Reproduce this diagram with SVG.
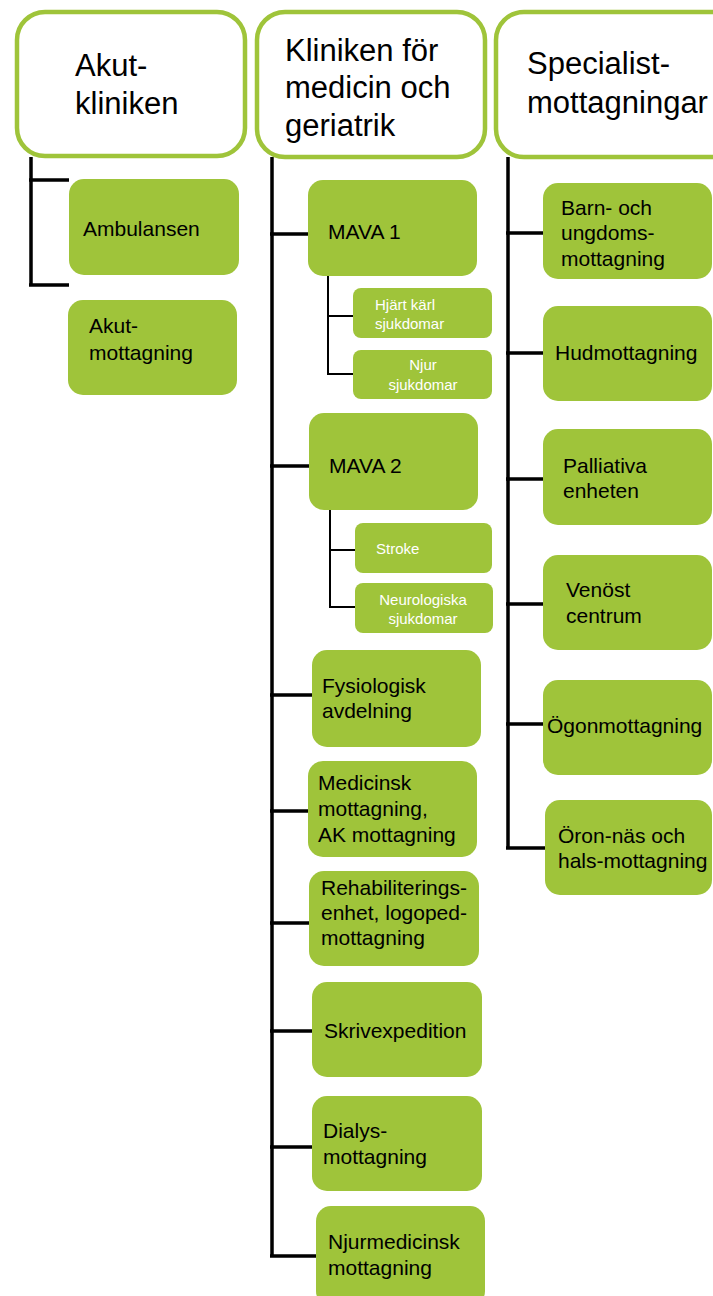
<svg xmlns="http://www.w3.org/2000/svg" width="713" height="1296" viewBox="0 0 713 1296">
<style>
.hdr{fill:#fff;stroke:#9fc43a;stroke-width:4.5}
.box{fill:#9fc43a}
.ht{font-family:"Liberation Sans",Arial,sans-serif;font-size:31px;fill:#000}
.t{font-family:"Liberation Sans",Arial,sans-serif;font-size:21px;fill:#000}
.s{font-family:"Liberation Sans",Arial,sans-serif;font-size:15px;fill:#fff}
.c{font-family:"Liberation Sans",Arial,sans-serif;font-size:15px;fill:#fff;text-anchor:middle}
.ln{stroke:#000;stroke-width:3.5;fill:none}
.sl{stroke:#000;stroke-width:2;fill:none}
</style>
<rect width="713" height="1296" fill="#fff"/>
<g id="connectors">
<path class="ln" d="M31 157V285M29 180H69M29 285H69"/>
<path class="ln" d="M272 157V1256M270 234H308M270 466H309M270 695H312M270 811H308M270 923H310M270 1031H312M270 1147H312M270 1256H316"/>
<path class="sl" d="M328 276V374H354M328 316H354M330 510V607H355M330 550H355"/>
<path class="ln" d="M508 157V848M506 233H543M506 353H543M506 479H543M506 604H543M506 724H543M506 848H545"/>
</g>
<g id="akutkliniken"><rect class="hdr" x="17" y="12" width="228" height="144" rx="28"/><text class="ht" x="75" y="76">Akut-</text><text class="ht" x="75" y="114">kliniken</text></g>
<g id="kliniken"><rect class="hdr" x="257" y="12" width="228" height="145" rx="28"/><text class="ht" x="285" y="61">Kliniken för</text><text class="ht" x="285" y="98">medicin och</text><text class="ht" x="285" y="136">geriatrik</text></g>
<g id="specialist"><rect class="hdr" x="496" y="12" width="250" height="145" rx="28"/><text class="ht" x="527" y="74">Specialist-</text><text class="ht" x="527" y="113">mottagningar</text></g>
<g id="ambulansen"><rect class="box" x="69" y="179" width="170" height="96" rx="15"/><text class="t" x="83" y="236">Ambulansen</text></g>
<g id="akutmottagning"><rect class="box" x="68" y="300" width="169" height="95" rx="15"/><text class="t" x="89" y="333">Akut-</text><text class="t" x="89" y="360">mottagning</text></g>
<g id="mava1"><rect class="box" x="308" y="180" width="169" height="96" rx="15"/><text class="t" x="328" y="239">MAVA 1</text></g>
<g id="hjartkarl"><rect class="box" x="353" y="288" width="139" height="50" rx="8"/><text class="s" x="375" y="310">Hjärt kärl</text><text class="s" x="375" y="329">sjukdomar</text></g>
<g id="njur"><rect class="box" x="353" y="350" width="139" height="49" rx="8"/><text class="c" x="423" y="370">Njur</text><text class="c" x="423" y="390">sjukdomar</text></g>
<g id="mava2"><rect class="box" x="309" y="413" width="169" height="97" rx="15"/><text class="t" x="329" y="473">MAVA 2</text></g>
<g id="stroke"><rect class="box" x="355" y="523" width="137" height="50" rx="8"/><text class="s" x="376" y="554">Stroke</text></g>
<g id="neuro"><rect class="box" x="355" y="583" width="138" height="50" rx="8"/><text class="c" x="423" y="605">Neurologiska</text><text class="c" x="423" y="624">sjukdomar</text></g>
<g id="fysiologisk"><rect class="box" x="312" y="650" width="169" height="97" rx="15"/><text class="t" x="322" y="693">Fysiologisk</text><text class="t" x="322" y="718">avdelning</text></g>
<g id="medicinsk"><rect class="box" x="308" y="761" width="169" height="96" rx="15"/><text class="t" x="318" y="790">Medicinsk</text><text class="t" x="318" y="816">mottagning,</text><text class="t" x="318" y="842">AK mottagning</text></g>
<g id="rehab"><rect class="box" x="309" y="871" width="170" height="95" rx="15"/><text class="t" x="321" y="895">Rehabiliterings-</text><text class="t" x="321" y="920">enhet, logoped-</text><text class="t" x="321" y="945">mottagning</text></g>
<g id="skriv"><rect class="box" x="312" y="982" width="170" height="95" rx="15"/><text class="t" x="324" y="1038">Skrivexpedition</text></g>
<g id="dialys"><rect class="box" x="312" y="1096" width="170" height="95" rx="15"/><text class="t" x="323" y="1138">Dialys-</text><text class="t" x="323" y="1164">mottagning</text></g>
<g id="njurmed"><rect class="box" x="316" y="1206" width="169" height="100" rx="15"/><text class="t" x="328" y="1249">Njurmedicinsk</text><text class="t" x="328" y="1275">mottagning</text></g>
<g id="barn"><rect class="box" x="543" y="183" width="169" height="96" rx="15"/><text class="t" x="561" y="215">Barn- och</text><text class="t" x="561" y="240">ungdoms-</text><text class="t" x="561" y="266">mottagning</text></g>
<g id="hud"><rect class="box" x="543" y="306" width="169" height="95" rx="15"/><text class="t" x="555" y="360">Hudmottagning</text></g>
<g id="palliativa"><rect class="box" x="543" y="429" width="169" height="96" rx="15"/><text class="t" x="563" y="473">Palliativa</text><text class="t" x="563" y="498">enheten</text></g>
<g id="venost"><rect class="box" x="543" y="555" width="169" height="95" rx="15"/><text class="t" x="566" y="597">Venöst</text><text class="t" x="566" y="623">centrum</text></g>
<g id="ogon"><rect class="box" x="543" y="680" width="169" height="95" rx="15"/><text class="t" x="547" y="733">Ögonmottagning</text></g>
<g id="oron"><rect class="box" x="545" y="800" width="167" height="95" rx="15"/><text class="t" x="558" y="843">Öron-näs och</text><text class="t" x="558" y="868">hals-mottagning</text></g>
</svg>
